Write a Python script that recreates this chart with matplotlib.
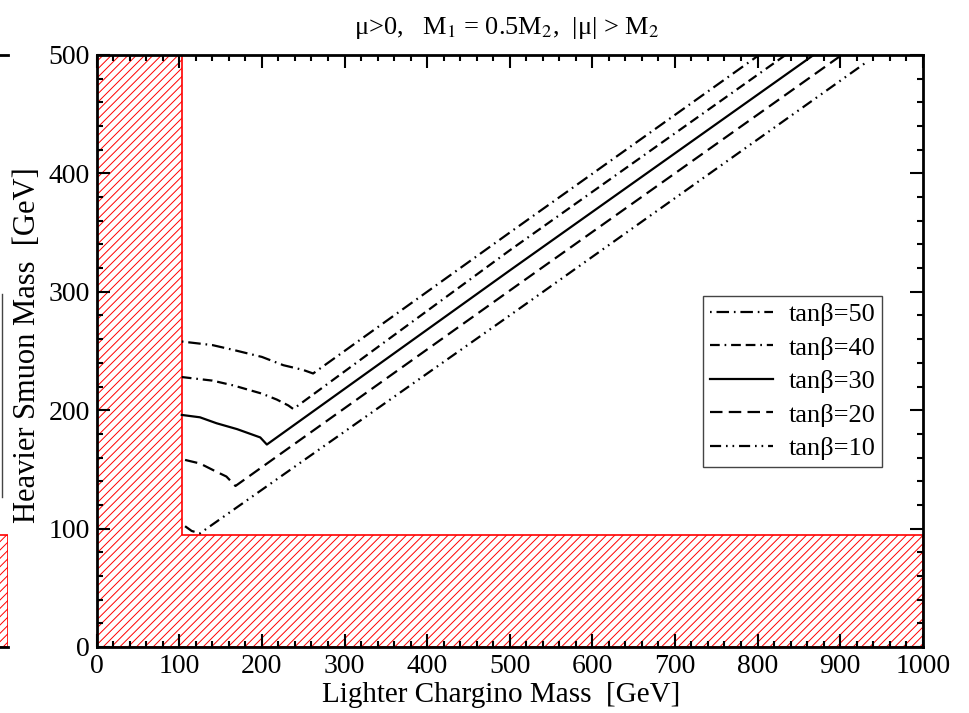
import numpy as np
import matplotlib.pyplot as plt
from matplotlib.patches import Polygon, Rectangle
from matplotlib.lines import Line2D

plt.rcParams['font.family'] = ['Liberation Serif', 'DejaVu Serif']
plt.rcParams['mathtext.fontset'] = 'stix'
plt.rcParams['hatch.color'] = 'red'
plt.rcParams['hatch.linewidth'] = 0.7
plt.rcParams['lines.scale_dashes'] = False

# curves: lighter chargino mass vs heavier smuon mass
m_50 = [103, 140, 165, 200, 226, 250, 262, 500, 820]
s_50 = [258, 255, 251, 245, 238, 234, 231, 350, 509]
m_40 = [103, 140, 165, 200, 218, 232, 238, 500, 840]
s_40 = [228, 225, 221, 214, 209, 204, 201, 335, 503]
m_30 = [103, 125, 145, 170, 198, 206, 500, 880]
s_30 = [196, 194, 189, 184, 177, 171, 318, 506]
m_20 = [107, 125, 145, 157, 168, 500, 910]
s_20 = [158, 155, 148, 144, 136, 301, 504]
m_10 = [107, 115, 125, 500, 932]
s_10 = [102, 98, 96, 280, 494]

# excluded region limits
chargino_limit = 103
smuon_limit = 95

fig = plt.figure(figsize=(9.69, 7.13), dpi=100)

# cropped piece of a neighbouring panel on the left edge
ax0 = fig.add_axes([-0.5, 1-647/713, 0.5 + 8/969, 592/713], zorder=0)
ax0.set_xlim(0, 1)
ax0.set_ylim(0, 500)
ax0.patch.set_visible(False)
ax0.add_patch(Rectangle((0, 0), 1, smuon_limit, facecolor='white', edgecolor='red',
                        hatch='////', lw=1.2))
ax0.set_xticks([])
ax0.set_yticks([])
ax0.spines['right'].set_visible(False)
ax0.spines['left'].set_visible(False)
for sp in ax0.spines.values():
    sp.set_linewidth(2)
fig.add_artist(Line2D([2/969, 2/969], [1-294/713, 1-497/713], color='#444444', lw=1.0))

ax = fig.add_axes([96.7/969, 1-647/713, 826/969, 592/713], zorder=1)

excl = Polygon([(0, 0), (1000, 0), (1000, smuon_limit), (chargino_limit, smuon_limit),
                (chargino_limit, 500), (0, 500)], closed=True, facecolor='white',
               edgecolor='red', hatch='////', lw=1.2, zorder=1)
ax.add_patch(excl)

ax.plot(m_50, s_50, color='black', lw=1.6, dashes=[1.2, 3.5, 9, 3.5], label='tanβ=50')
ax.plot(m_40, s_40, color='black', lw=1.6, dashes=[7, 3.5, 1.2, 3.5, 7, 3.5], label='tanβ=40')
ax.plot(m_30, s_30, color='black', lw=1.6, label='tanβ=30')
ax.plot(m_20, s_20, color='black', lw=1.6, dashes=[9, 4.5], label='tanβ=20')
ax.plot(m_10, s_10, color='black', lw=1.6, dashes=[8, 3.5, 1.2, 3.5, 1.2, 3.5], label='tanβ=10')

ax.set_xlim(0, 1000)
ax.set_ylim(0, 500)
ax.set_xticks(np.arange(0, 1001, 100))
ax.set_yticks(np.arange(0, 501, 100))
ax.set_xticks(np.arange(0, 1001, 20), minor=True)
ax.set_yticks(np.arange(0, 501, 20), minor=True)
ax.tick_params(which='both', direction='in', top=True, right=True, width=1.5, labelsize=20)
ax.tick_params(which='major', length=9.5, pad=5)
ax.tick_params(which='minor', length=4.5)
for sp in ax.spines.values():
    sp.set_linewidth(2)
    sp.set_zorder(5)

ax.set_xlabel('Lighter Chargino Mass  [GeV]', fontsize=21, va='center')
ax.set_ylabel('Heavier Smuon Mass  [GeV]', fontsize=22, va='center')
ax.xaxis.set_label_coords(0.49, -0.081)
ax.yaxis.set_label_coords(-0.084, 0.51)
fig.text(0.523, 1-28/713, r'μ>0,   M$_1$ = 0.5M$_2$,  |μ| > M$_2$', fontsize=19,
         ha='center', va='center')

leg = ax.legend(loc='upper left', bbox_to_anchor=(703/969, 1-296/713),
                bbox_transform=fig.transFigure, fontsize=19, fancybox=False,
                framealpha=1, edgecolor='#444444', handlelength=2.4,
                handletextpad=0.6, labelspacing=0.38, borderpad=0.25,
                borderaxespad=0)
leg.get_frame().set_linewidth(1.0)
leg.set_zorder(6)

fig.savefig('out.png', dpi=100)
